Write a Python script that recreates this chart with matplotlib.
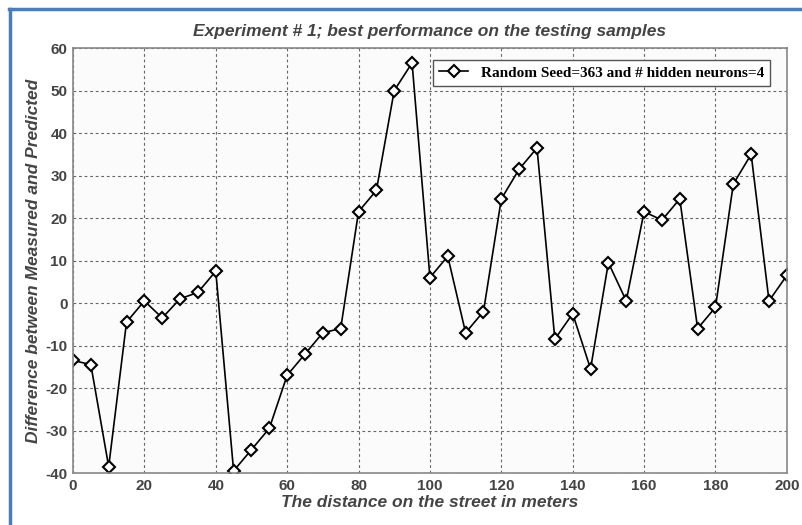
import numpy as np
import matplotlib.pyplot as plt
from matplotlib.lines import Line2D

# distance along the street (m) and measured - predicted difference
distance = np.arange(0, 201, 5)
difference = [-13.5, -14.5, -38.5, -4.5, 0.5, -3.5, 1.0, 2.5, 7.5, -39.5,
              -34.5, -29.5, -17.0, -12.0, -7.0, -6.0, 21.5, 26.5, 50.0, 56.5,
              6.0, 11.0, -7.0, -2.0, 24.5, 31.5, 36.5, -8.5, -2.5, -15.5,
              9.5, 0.5, 21.5, 19.5, 24.5, -6.0, -1.0, 28.0, 35.0, 0.5, 6.5]

x_ticks = np.arange(0, 201, 20)
y_ticks = np.arange(-40, 61, 10)

plt.rcParams['font.family'] = ['Liberation Sans', 'DejaVu Sans']
plt.rcParams['axes.unicode_minus'] = False

fig = plt.figure(figsize=(8.03, 5.25), dpi=100)
ax = fig.add_axes([0.0909, 0.099, 0.889, 0.8095])
ax.set_facecolor('#fbfbfb')

ax.plot(distance, difference, color='black', linewidth=1.2, marker='D',
        markersize=6.5, markerfacecolor='white', markeredgecolor='black',
        markeredgewidth=1.5, label='Random Seed=363 and # hidden neurons=4')

ax.set_xlim(0, 200)
ax.set_ylim(-40, 60)
ax.set_xticks(x_ticks)
ax.set_yticks(y_ticks)
ax.tick_params(direction='in', length=0, labelsize=11, colors='#444444', pad=4)
for lab in ax.get_xticklabels() + ax.get_yticklabels():
    lab.set_fontweight('bold')
ax.grid(True, linestyle=(0, (2.5, 2.5)), color='#666666', linewidth=0.8)
for sp in ax.spines.values():
    sp.set_color('#888888')
    sp.set_linewidth(1.2)

ax.set_title('Experiment # 1; best performance on the testing samples',
             fontsize=12.5, fontweight='bold', fontstyle='italic', color='#444444', pad=9)
ax.set_xlabel('The distance on the street in meters', fontsize=12.5,
              fontweight='bold', fontstyle='italic', color='#444444', labelpad=2)
ax.set_ylabel('Difference between Measured and Predicted', fontsize=12.5,
              fontweight='bold', fontstyle='italic', color='#444444', labelpad=3)

leg = ax.legend(loc='upper right', bbox_to_anchor=(0.987, 0.99), fancybox=False,
                framealpha=1, edgecolor='#555555', handlelength=1.9,
                prop={'family': 'Liberation Serif', 'weight': 'bold', 'size': 11})
leg.get_frame().set_linewidth(1.0)

# blue page frame on the top and left edges
fig.add_artist(Line2D([9 / 803, 1], [1 - 9 / 525, 1 - 9 / 525], color='#4a7ebb',
                      linewidth=2.5, transform=fig.transFigure))
fig.add_artist(Line2D([10 / 803, 10 / 803], [0, 1 - 9 / 525], color='#4a7ebb',
                      linewidth=2.5, transform=fig.transFigure))

fig.savefig('out.png', dpi=100)
